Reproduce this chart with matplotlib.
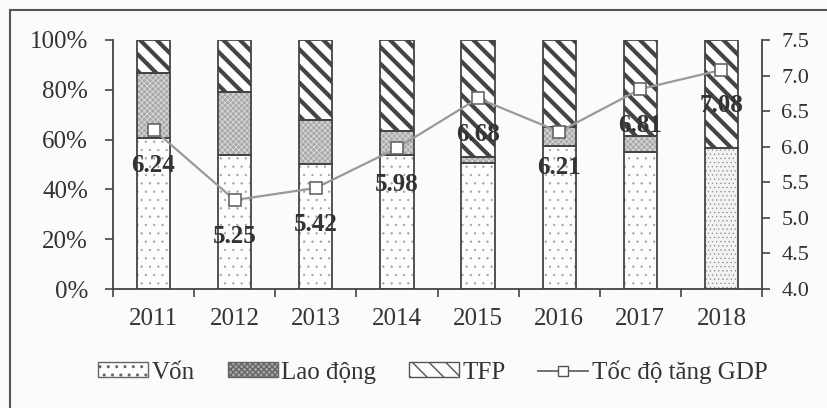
import matplotlib
matplotlib.use("Agg")
import matplotlib.pyplot as plt
import numpy as np
from matplotlib.lines import Line2D
from matplotlib.patches import Patch

years = ["2011", "2012", "2013", "2014", "2015", "2016", "2017", "2018"]
von = [60.6, 53.8, 50.4, 53.8, 50.7, 57.4, 55.0, 56.8]
lao_dong = [26.2, 25.5, 17.5, 9.7, 2.3, 7.5, 6.5, 0.0]
tfp = [13.2, 20.7, 32.1, 36.5, 47.0, 35.1, 38.5, 43.2]
gdp = [6.24, 5.25, 5.42, 5.98, 6.68, 6.21, 6.81, 7.08]
gdp_labels = ["6.24", "5.25", "5.42", "5.98", "6.68", "6.21", "6.81", "7.08"]
left_ticks = [0, 20, 40, 60, 80, 100]
right_ticks = [4.0, 4.5, 5.0, 5.5, 6.0, 6.5, 7.0, 7.5]
legend_labels = ["Vốn", "Lao động", "TFP", "Tốc độ tăng GDP"]

plt.rcParams['font.family'] = ['Liberation Serif', 'DejaVu Serif']
TXT = '#333333'
EDGE = '#444444'

fig = plt.figure(figsize=(8.27, 4.08), dpi=100)
fig.patch.set_facecolor('#fbfbfa')

W, H = 827.0, 408.0
ax = fig.add_axes([113 / W, 1 - 289 / H, (762 - 113) / W, (289 - 40) / H])
ax.set_facecolor('none')

x = np.arange(len(years))
bw = 0.41


def hatched_bar(xs, heights, bottoms, face, hatch, hcolor, hlw):
    with plt.rc_context({'hatch.linewidth': hlw}):
        bars = ax.bar(xs, heights, bw, bottom=bottoms, facecolor=face,
                      hatch=hatch, edgecolor=hcolor, linewidth=0, zorder=2)
    for b in bars:
        if hasattr(b, 'set_hatch_linewidth'):
            b.set_hatch_linewidth(hlw)
    ax.bar(xs, heights, bw, bottom=bottoms, fill=False, edgecolor=EDGE,
           linewidth=1.3, zorder=3)
    return bars


von_arr = np.array(von)
ld_arr = np.array(lao_dong)
tfp_arr = np.array(tfp)

# Vốn (2018 drawn with a denser dot pattern as in the original)
hatched_bar(x[:-1], von_arr[:-1], 0, '#fdfdfd', '..', '#a0a0a0', 0.4)
hatched_bar(x[-1:], von_arr[-1:], 0, '#f2f2f2', '....', '#8a8a8a', 0.4)
# Lao động
mask = ld_arr > 0
hatched_bar(x[mask], ld_arr[mask], von_arr[mask], '#a9a9a9', 'xxxxxx', '#e2e2e2', 0.5)
# TFP
hatched_bar(x, tfp_arr, von_arr + ld_arr, '#fdfdfd', '\\\\', '#444444', 3.0)

ax.set_xlim(-0.5, len(years) - 0.5)
ax.set_ylim(0, 100)
ax.set_yticks(left_ticks)
ax.set_yticklabels([f"{t}%" for t in left_ticks], fontsize=18, color=TXT)
ax.set_xticks(np.arange(-0.5, len(years), 1.0))
ax.set_xticklabels([])
ax.set_xticks(x, minor=True)
ax.set_xticklabels(years, minor=True, fontsize=18, color=TXT)
ax.tick_params(axis='x', which='minor', length=0, pad=14)
ax.tick_params(axis='x', which='major', length=6, width=1.2, color=EDGE, direction='out')
ax.tick_params(axis='y', length=6, width=1.2, color=EDGE, direction='out', pad=12)
for s in ['top', 'right']:
    ax.spines[s].set_visible(False)
for s in ['left', 'bottom']:
    ax.spines[s].set_color(EDGE)
    ax.spines[s].set_linewidth(1.3)

ax2 = ax.twinx()
ax2.set_ylim(4.0, 7.5)
ax2.set_yticks(right_ticks)
ax2.set_yticklabels([f"{t:.1f}" for t in right_ticks], fontsize=16, color=TXT)
ax2.tick_params(axis='y', length=6, width=1.2, color=EDGE, direction='out', pad=8)
for s in ['top', 'left', 'bottom']:
    ax2.spines[s].set_visible(False)
ax2.spines['right'].set_color(EDGE)
ax2.spines['right'].set_linewidth(1.3)

ax2.plot(x, gdp, color='#999999', linewidth=1.6, marker='s', markersize=8,
         markerfacecolor='white', markeredgecolor='#666666', markeredgewidth=1.2, zorder=5)
for xi, yi, lab in zip(x, gdp, gdp_labels):
    ax2.annotate(lab, (xi, yi), xytext=(0, -26), textcoords='offset points',
                 ha='center', va='center', fontsize=18, fontweight='bold', color=TXT, zorder=6)

# Legend
handles = []
with plt.rc_context({'hatch.linewidth': 0.4}):
    handles.append(Patch(facecolor='#fdfdfd', edgecolor='#666666', hatch='..', linewidth=1.0))
with plt.rc_context({'hatch.linewidth': 0.5}):
    handles.append(Patch(facecolor='#a9a9a9', edgecolor='#666666', hatch='xxxxxx', linewidth=1.0))
with plt.rc_context({'hatch.linewidth': 2.5}):
    handles.append(Patch(facecolor='#fdfdfd', edgecolor='#555555', hatch='\\\\', linewidth=1.0))
handles.append(Line2D([0], [0], color='#666666', linewidth=1.3, marker='s', markersize=7,
                      markerfacecolor='white', markeredgecolor='#555555'))
leg = fig.legend(handles, legend_labels, loc='center', bbox_to_anchor=(433 / W, 1 - 372 / H),
                 ncol=4, frameon=False, fontsize=18, handlelength=2.0, handleheight=0.55,
                 handletextpad=0.15, columnspacing=1.3, labelcolor=TXT)

# Outer frame (partially visible, as in the scanned figure)
fx, fy = 10 / W, 1 - 10 / H
fig.add_artist(Line2D([fx, fx], [0, fy], transform=fig.transFigure, color='#555555', linewidth=1.5))
fig.add_artist(Line2D([fx, 1], [fy, fy], transform=fig.transFigure, color='#555555', linewidth=1.5))

fig.savefig("out.png", dpi=100, facecolor=fig.get_facecolor())
